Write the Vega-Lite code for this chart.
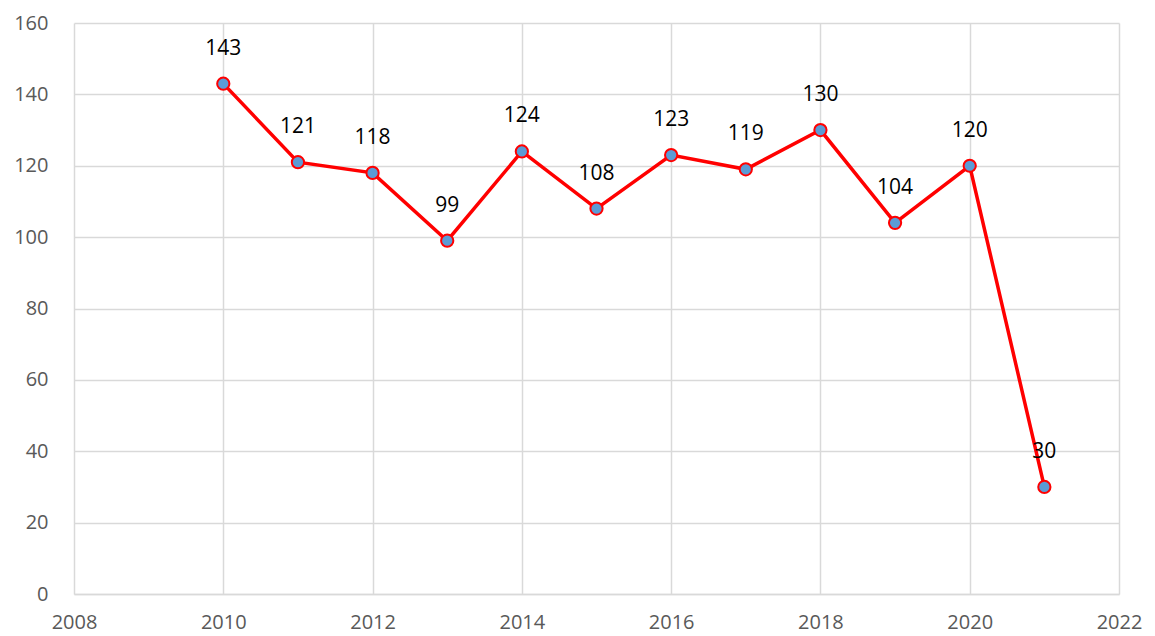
{
  "$schema": "https://vega.github.io/schema/vega-lite/v6.json",
  "width": 1045,
  "height": 571,
  "autosize": {"type": "none"},
  "padding": {"left": 74, "top": 23, "right": 36, "bottom": 42},
  "background": "white",
  "config": {
    "view": {"stroke": null},
    "font": "Open Sans"
  },
  "data": {
    "values": [
      {"year": 2010, "value": 143},
      {"year": 2011, "value": 121},
      {"year": 2012, "value": 118},
      {"year": 2013, "value": 99},
      {"year": 2014, "value": 124},
      {"year": 2015, "value": 108},
      {"year": 2016, "value": 123},
      {"year": 2017, "value": 119},
      {"year": 2018, "value": 130},
      {"year": 2019, "value": 104},
      {"year": 2020, "value": 120},
      {"year": 2021, "value": 30}
    ]
  },
  "encoding": {
    "x": {
      "field": "year", "type": "quantitative",
      "scale": {"domain": [2008, 2022], "nice": false, "zero": false},
      "axis": {
        "title": null, "values": [2008, 2010, 2012, 2014, 2016, 2018, 2020, 2022],
        "format": "d", "grid": true, "gridColor": "#d9d9d9", "gridWidth": 1.5,
        "domainColor": "#d9d9d9", "domainWidth": 1.5, "ticks": false,
        "labelFontSize": 20, "labelColor": "#595959", "labelPadding": 18, "labelFlush": false
      }
    },
    "y": {
      "field": "value", "type": "quantitative",
      "scale": {"domain": [0, 160], "nice": false},
      "axis": {
        "title": null, "values": [0, 20, 40, 60, 80, 100, 120, 140, 160],
        "grid": true, "gridColor": "#d9d9d9", "gridWidth": 1.5,
        "domain": false, "ticks": false,
        "labelFontSize": 20, "labelColor": "#595959", "labelPadding": 26
      }
    }
  },
  "layer": [
    {"mark": {"type": "line", "color": "#ff0000", "strokeWidth": 3.5}},
    {"mark": {"type": "point", "filled": true, "fill": "#5b9bd5", "stroke": "#ff0000", "strokeWidth": 2, "size": 150, "opacity": 1}},
    {"mark": {"type": "text", "dy": -35, "fontSize": 21, "color": "#000000"},
     "encoding": {"text": {"field": "value", "type": "quantitative"}}}
  ]
}
